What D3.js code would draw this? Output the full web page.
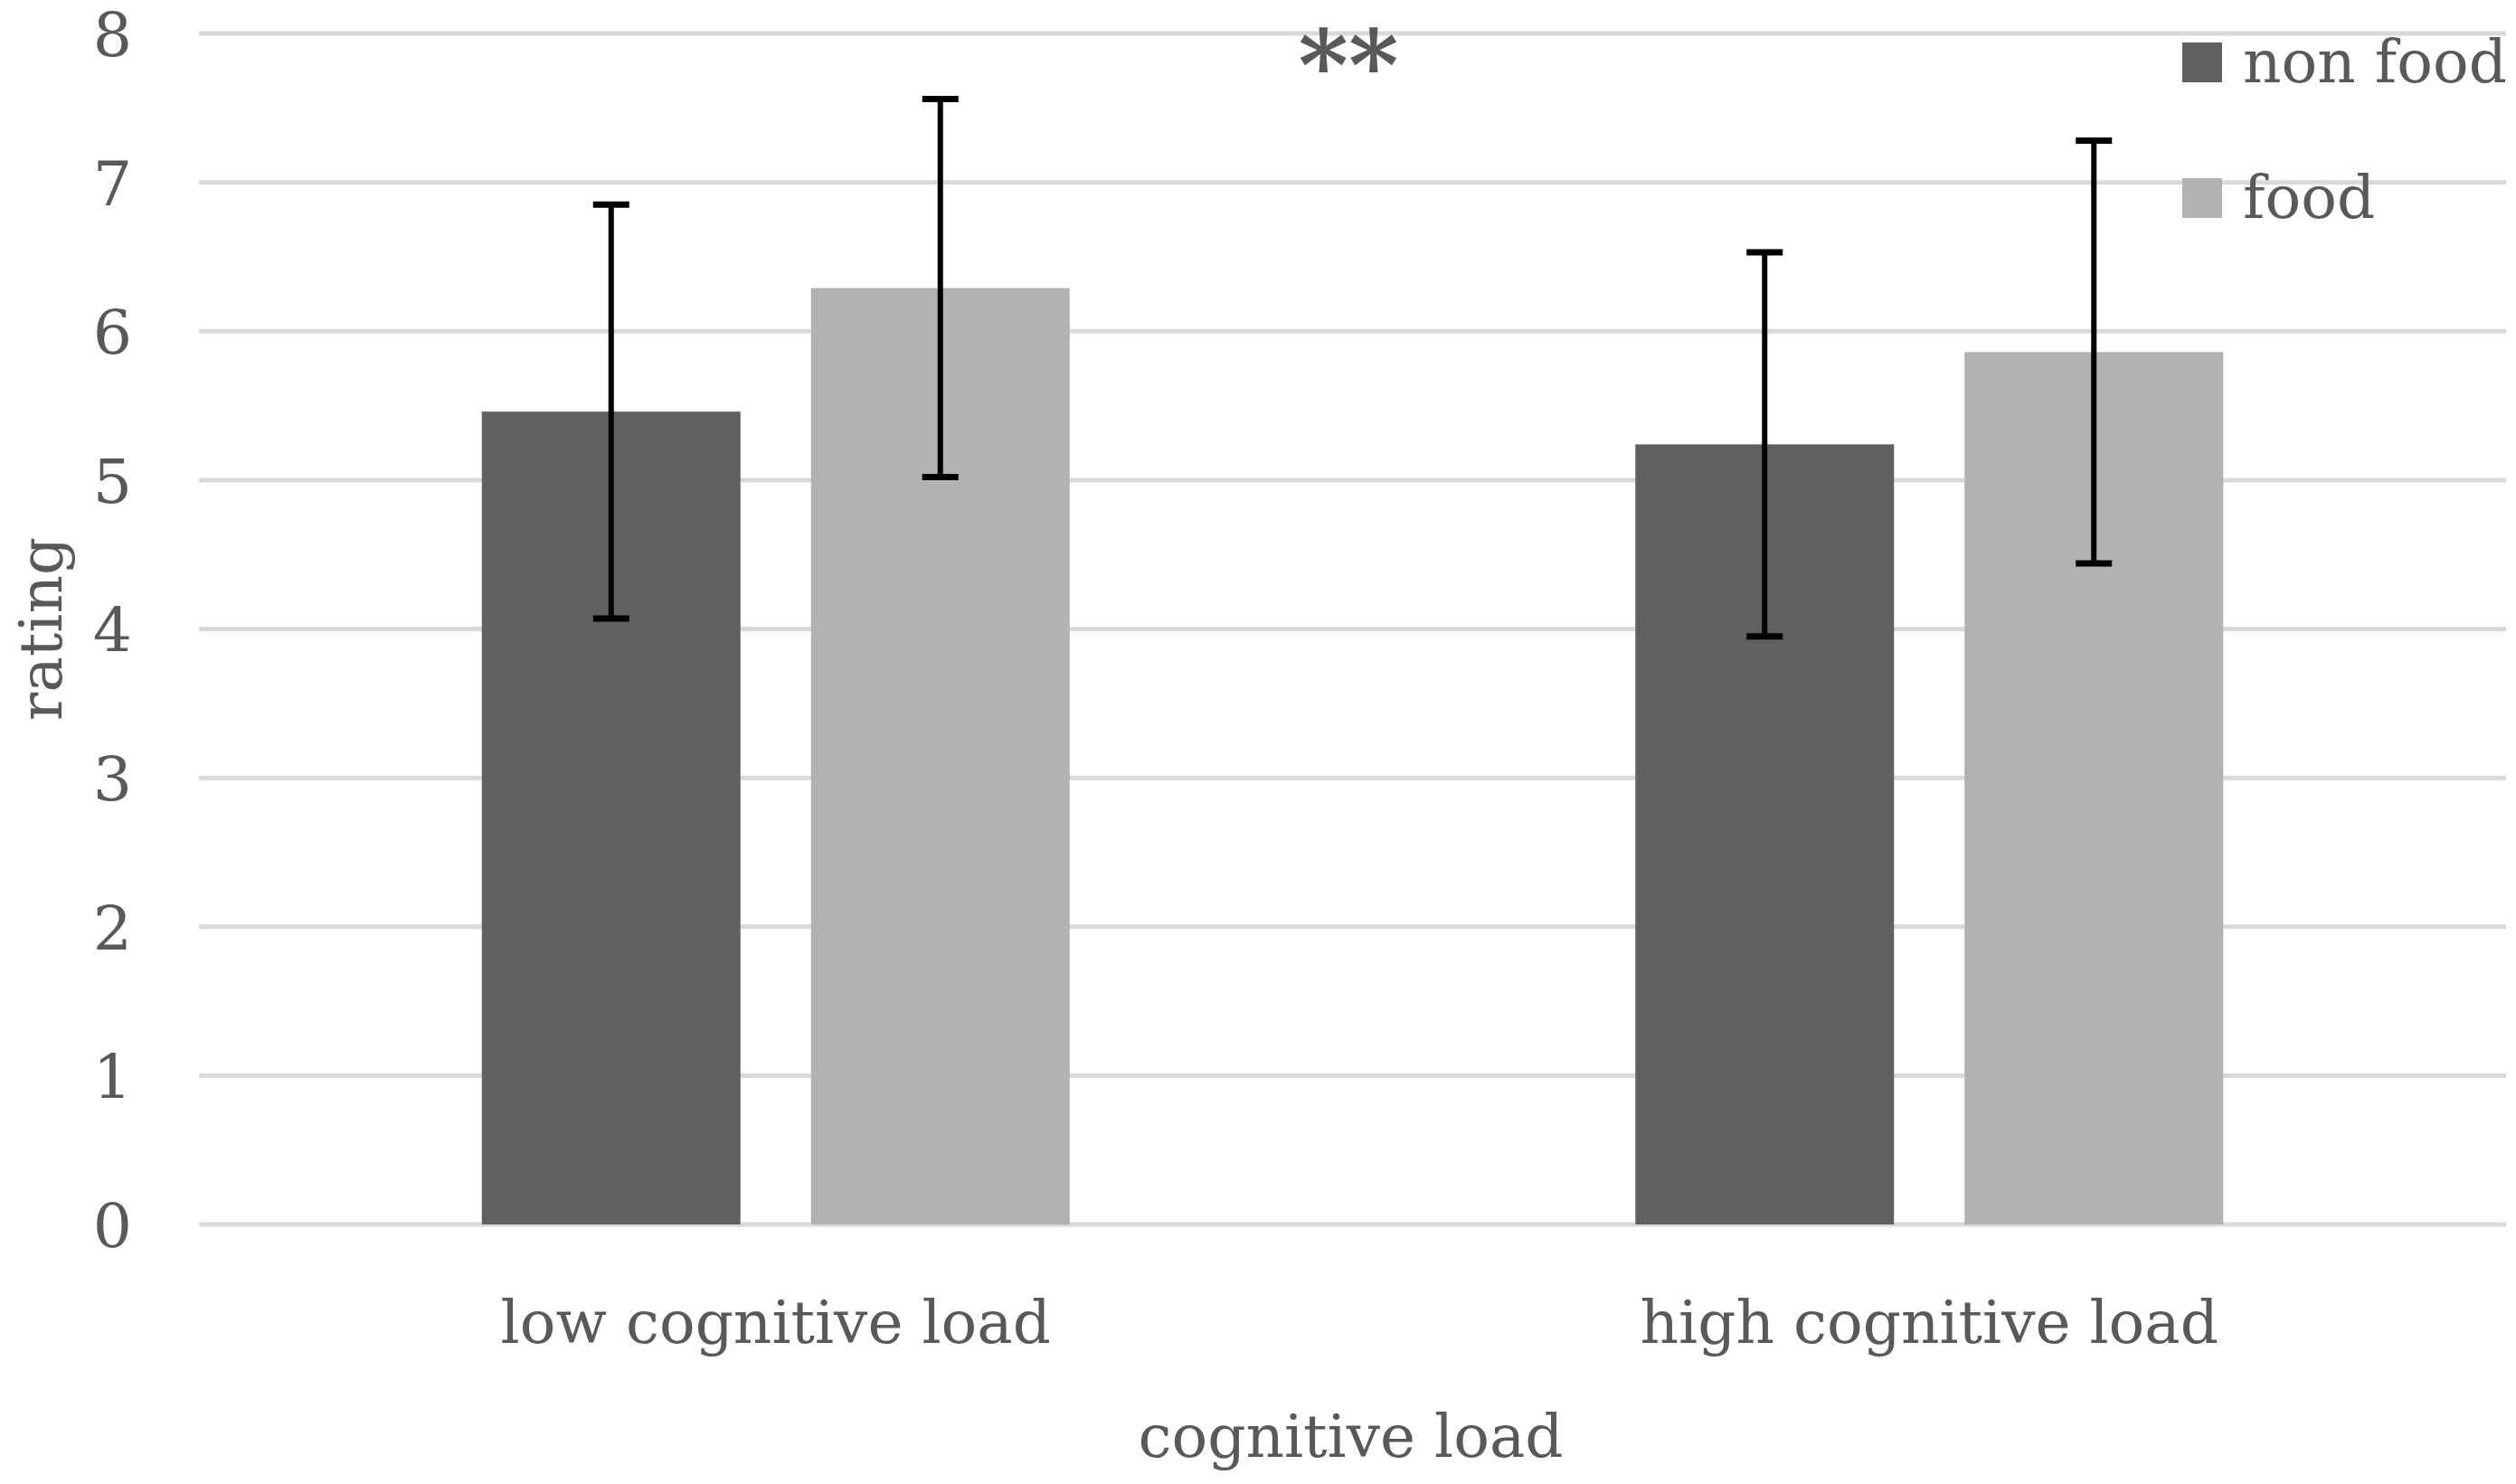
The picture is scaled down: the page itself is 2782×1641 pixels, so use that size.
<!DOCTYPE html>
<html><head><meta charset="utf-8">
<script src="https://cdn.jsdelivr.net/npm/d3@7"></script>
<style>html,body{margin:0;padding:0;background:#fff;}</style>
</head><body>
<svg id="c" width="2782" height="1641"></svg>
<script>
const categories = ["low cognitive load", "high cognitive load"];
const seriesNames = ["non food", "food"];
const nonFood = [5.46, 5.24];
const food = [6.29, 5.86];
const nonFoodErr = [1.39, 1.29];
const foodErr = [1.27, 1.42];
const yTicks = [0,1,2,3,4,5,6,7,8];
const colors = ["#606060", "#b2b2b2"];
const textColor = "#595959";
const font = "'DejaVu Serif', serif";

(function () {
const svg = d3.select("#c");
const pLeft = 220, pRight = 2771, pTop = 37, pBottom = 1354;
const y = d3.scaleLinear().domain([0, 8]).range([pBottom, pTop]);
const x0 = d3.scaleBand().domain(categories).range([pLeft, pRight]).paddingInner(0.4904).paddingOuter(0.2452);
const x1 = d3.scaleBand().domain(seriesNames).range([0, x0.bandwidth()]).paddingInner(0.2143).paddingOuter(0);

// gridlines
svg.append("g").selectAll("line").data(yTicks).join("line")
  .attr("x1", pLeft).attr("x2", pRight)
  .attr("y1", d => y(d)).attr("y2", d => y(d))
  .attr("stroke", "#d9d9d9").attr("stroke-width", 5);

// y axis labels
const yAxis = d3.axisLeft(y).tickValues(yTicks).tickSize(0).tickPadding(0).tickFormat(d3.format("d"));
const ga = svg.append("g").attr("transform", `translate(146,0)`).call(yAxis);
ga.select(".domain").remove();
ga.selectAll("text").attr("font-family", font).attr("font-size", 68).attr("fill", textColor)
  .attr("dy", "0.36em");

// bars
const data = categories.map((c, i) => ({
  cat: c,
  vals: [
    {s: seriesNames[0], v: nonFood[i], e: nonFoodErr[i], c: colors[0]},
    {s: seriesNames[1], v: food[i], e: foodErr[i], c: colors[1]}
  ]
}));
const groups = svg.append("g").selectAll("g").data(data).join("g")
  .attr("transform", d => `translate(${x0(d.cat)},0)`);
groups.selectAll("rect").data(d => d.vals).join("rect")
  .attr("x", d => x1(d.s)).attr("width", x1.bandwidth())
  .attr("y", d => y(d.v)).attr("height", d => y(0) - y(d.v))
  .attr("fill", d => d.c);

// error bars
const capW = 40;
const eb = groups.selectAll("g.eb").data(d => d.vals).join("g").attr("class", "eb");
eb.append("line")
  .attr("x1", d => x1(d.s) + x1.bandwidth()/2).attr("x2", d => x1(d.s) + x1.bandwidth()/2)
  .attr("y1", d => y(d.v + d.e)).attr("y2", d => y(d.v - d.e))
  .attr("stroke", "#000").attr("stroke-width", 6);
eb.selectAll("line.cap").data(d => [{d, v: d.v + d.e}, {d, v: d.v - d.e}]).join("line").attr("class","cap")
  .attr("x1", o => x1(o.d.s) + x1.bandwidth()/2 - capW/2)
  .attr("x2", o => x1(o.d.s) + x1.bandwidth()/2 + capW/2)
  .attr("y1", o => y(o.v)).attr("y2", o => y(o.v))
  .attr("stroke", "#000").attr("stroke-width", 7);

// category labels
const xAxis = d3.axisBottom(x0).tickSize(0).tickPadding(0);
const gx = svg.append("g").attr("transform", `translate(0,1485)`).call(xAxis);
gx.select(".domain").remove();
gx.selectAll("text").attr("font-family", font).attr("font-size", 66).attr("fill", textColor).attr("dy", 0);

// axis titles
svg.append("text").attr("x", (pLeft + pRight)/2 - 2).attr("y", 1611)
  .attr("text-anchor", "middle").attr("font-family", font).attr("font-size", 66).attr("fill", textColor)
  .text("cognitive load");
svg.append("text").attr("transform", `translate(68,${(pTop + pBottom)/2}) rotate(-90)`)
  .attr("text-anchor", "middle").attr("font-family", font).attr("font-size", 66).attr("fill", textColor)
  .text("rating");

// significance
svg.append("text").attr("x", 1491).attr("y", 110)
  .attr("text-anchor", "middle").attr("font-family", font).attr("font-weight", "bold")
  .attr("font-size", 106).attr("fill", textColor)
  .text("**");

// legend
const leg = svg.append("g").selectAll("g").data(seriesNames).join("g")
  .attr("transform", (d, i) => `translate(2413,${47 + i*150})`);
leg.append("rect").attr("width", 44).attr("height", 44).attr("fill", (d, i) => colors[i]);
leg.append("text").attr("x", 67).attr("y", 44)
  .attr("font-family", font).attr("font-size", 66).attr("fill", textColor).text(d => d);
})();
</script>
</body></html>
